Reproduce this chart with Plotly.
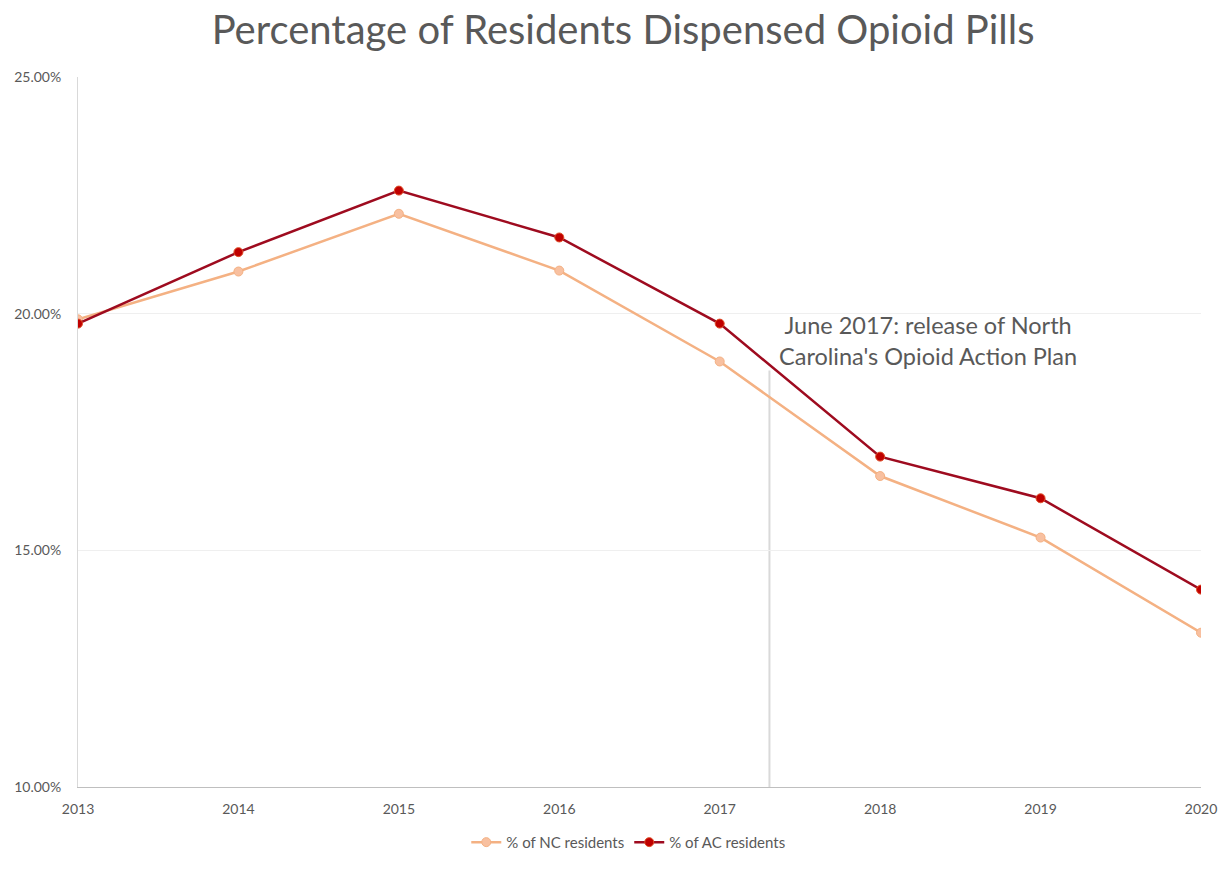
import plotly.graph_objects as go

years = [2013, 2014, 2015, 2016, 2017, 2018, 2019, 2020]
nc_pct = [19.88, 20.89, 22.11, 20.91, 18.99, 16.57, 15.27, 13.26]
ac_pct = [19.79, 21.30, 22.60, 21.61, 19.79, 16.98, 16.10, 14.17]
y_ticks = [10, 15, 20, 25]
y_tick_labels = ["10.00%", "15.00%", "20.00%", "25.00%"]
plan_release = 2017.31
plan_note = "June 2017: release of North<br>Carolina's Opioid Action Plan"

FONT = "Lato, Open Sans, sans-serif"
GRAY = "#595959"

fig = go.Figure()

fig.add_trace(go.Scatter(
    x=years, y=nc_pct, name="% of NC residents", mode="lines+markers",
    line=dict(color="#F4B183", width=2.5),
    marker=dict(color="#F8C0A0", size=9, line=dict(color="#F4B183", width=1)),
))
fig.add_trace(go.Scatter(
    x=years, y=ac_pct, name="% of AC residents", mode="lines+markers",
    line=dict(color="#9E0B1F", width=2.5),
    marker=dict(color="#C00000", size=9, line=dict(color="#E0502A", width=1)),
))

# vertical marker for the action plan release
fig.add_shape(type="line", xref="x", yref="y",
              x0=plan_release, x1=plan_release, y0=10, y1=18.8,
              line=dict(color="#D9D9D9", width=2), layer="below")

fig.add_annotation(x=2018.3, y=19.43, xref="x", yref="y", text=plan_note,
                   showarrow=False, font=dict(family=FONT, size=23.5, color=GRAY),
                   align="center")

fig.update_layout(
    width=1229, height=871,
    margin=dict(l=78, r=18, t=77, b=68),
    paper_bgcolor="white", plot_bgcolor="white",
    title=dict(text="Percentage of Residents Dispensed Opioid Pills",
               x=0.507, xanchor="center", y=0.965, yanchor="middle",
               font=dict(family=FONT, size=40, color=GRAY)),
    font=dict(family=FONT, color=GRAY),
    xaxis=dict(range=[2013, 2020], tickvals=years, ticktext=[str(y) for y in years],
               showgrid=False, showline=True, linecolor="#BFBFBF", linewidth=1,
               ticks="", ticklabelstandoff=9, ticklabeloverflow="allow",
               tickfont=dict(size=14, color=GRAY), zeroline=False),
    yaxis=dict(range=[10, 25], tickvals=y_ticks, ticktext=y_tick_labels,
               showgrid=True, gridcolor="#EFEFEF", gridwidth=1,
               showline=True, linecolor="#D9D9D9", linewidth=1,
               ticks="", ticklabelstandoff=13,
               tickfont=dict(size=14, color=GRAY), zeroline=False),
    legend=dict(orientation="h", x=0.49, xanchor="center", y=-0.078, yanchor="middle",
                font=dict(size=15, color=GRAY), itemwidth=30),
    showlegend=True,
)

fig.write_html("out.html")
